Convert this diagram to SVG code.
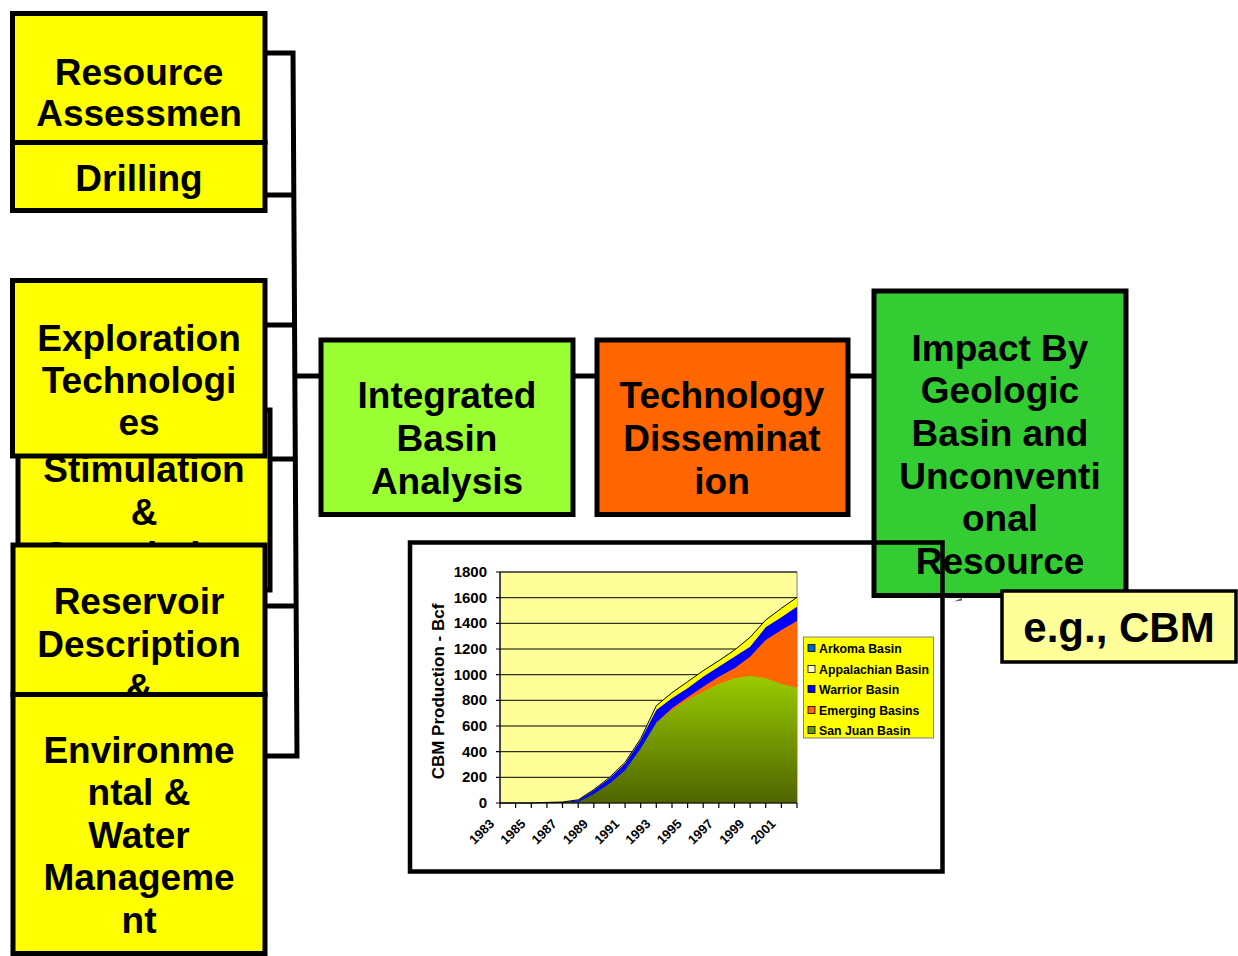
<svg xmlns="http://www.w3.org/2000/svg" width="1238" height="956" viewBox="0 0 1238 956">
<style>
.box{stroke:#000;stroke-width:5}
.y{fill:#FFFF00}
.t{font-family:"Liberation Sans",Arial,sans-serif;font-weight:bold;font-size:37px;fill:#000;text-anchor:middle}
.big{font-size:42px}
.conn{stroke:#000;stroke-width:5;fill:none}
.ax{font-family:"Liberation Sans",Arial,sans-serif;font-weight:bold;font-size:15px;fill:#000}
.axt{font-size:17px}
.xl{font-size:13px}
.lg{font-family:"Liberation Sans",Arial,sans-serif;font-weight:bold;font-size:12.3px;fill:#000}
.grid{stroke:#000;stroke-width:1}
</style>
<defs>
<linearGradient id="sj" gradientUnits="userSpaceOnUse" x1="0" y1="675" x2="0" y2="803">
<stop offset="0" stop-color="#99CC00"/>
<stop offset="1" stop-color="#4F6400"/>
</linearGradient>
</defs>
<rect width="1238" height="956" fill="#fff"/>
<g id="connectors">
<path class="conn" d="M265,53H293M265,195H294M265,325H294.5M270,459H295M265,606H296M265,756H297.5M293,50.5L297,758.5M295,376H321M573,376H597M848,376H874"/>
</g>
<g id="resource">
<rect class="box y" x="12.5" y="13.5" width="252.5" height="129"/>
<text class="t" x="139" y="85">Resource</text>
<text class="t" x="139" y="126">Assessmen</text>
</g>
<g id="drilling">
<rect class="box y" x="12.5" y="142.5" width="252.5" height="68"/>
<text class="t" x="139" y="191">Drilling</text>
</g>
<g id="stimulation">
<rect class="box y" x="18" y="410" width="252" height="180"/>
<text class="t" x="144" y="482">Stimulation</text>
<text class="t" x="144" y="525">&amp;</text>
<text class="t" x="144" y="568">Completion</text>
</g>
<g id="exploration">
<rect class="box y" x="12.5" y="280.5" width="252.5" height="175.5"/>
<text class="t" x="139" y="351">Exploration</text>
<text class="t" x="139" y="393">Technologi</text>
<text class="t" x="139" y="435">es</text>
</g>
<g id="reservoir">
<rect class="box y" x="13" y="545" width="252" height="150"/>
<text class="t" x="139" y="614">Reservoir</text>
<text class="t" x="139" y="657">Description</text>
<text class="t" x="139" y="700">&amp;</text>
</g>
<g id="environmental">
<rect class="box y" x="13" y="694.5" width="252" height="259"/>
<text class="t" x="139" y="763">Environme</text>
<text class="t" x="139" y="805">ntal &amp;</text>
<text class="t" x="139" y="848">Water</text>
<text class="t" x="139" y="890">Manageme</text>
<text class="t" x="139" y="933">nt</text>
</g>
<g id="integrated">
<rect class="box" fill="#99FF33" x="321" y="340" width="252" height="174.5"/>
<text class="t" x="447" y="408">Integrated</text>
<text class="t" x="447" y="451">Basin</text>
<text class="t" x="447" y="494">Analysis</text>
</g>
<g id="technology">
<rect class="box" fill="#FF6600" x="597" y="340" width="251" height="174.5"/>
<text class="t" x="722" y="408">Technology</text>
<text class="t" x="722" y="451">Disseminat</text>
<text class="t" x="722" y="494">ion</text>
</g>
<g id="impact">
<rect class="box" fill="#33CC33" x="874" y="291" width="252" height="304.5"/>
<text class="t" x="1000" y="361">Impact By</text>
<text class="t" x="1000" y="403">Geologic</text>
<text class="t" x="1000" y="446">Basin and</text>
<text class="t" x="1000" y="489">Unconventi</text>
<text class="t" x="1000" y="531">onal</text>
<text class="t" x="1000" y="574">Resource</text>
</g>
<g id="chart">
<rect x="500" y="572" width="297" height="231" fill="#FFFF99" stroke="#808080" stroke-width="1"/>
<path class="grid" d="M500,777.3H797M500,751.7H797M500,726H797M500,700.3H797M500,674.7H797M500,649H797M500,623.3H797M500,597.7H797M500,572H797"/>
<polygon fill="#FFFF00" points="500,803 515.6,803 531.3,803 546.9,802.4 562.5,802 578.2,799.8 593.8,789.6 609.4,777.5 625.1,762.3 640.7,738.5 656.3,705.7 672,692.7 687.6,681.7 703.2,670.7 718.8,660.7 734.5,650 750.1,637.3 765.7,620 781.4,608.3 797,597.3 797,803"/>
<polygon fill="#0000FF" points="500,803 515.6,803 531.3,803 546.9,802.5 562.5,802.2 578.2,800.3 593.8,790.3 609.4,778.6 625.1,763.6 640.7,740.1 656.3,710 672,698.3 687.6,688.3 703.2,676.7 718.8,666.7 734.5,656.7 750.1,646.7 765.7,627.3 781.4,617.3 797,606.7 797,803"/>
<polygon fill="#FF6600" points="656.3,722.7 672,708.3 687.6,697.3 703.2,686.7 718.8,676.7 734.5,668.3 750.1,656.7 765.7,640 781.4,630 797,621 797,803 656.3,803"/>
<polygon fill="url(#sj)" points="500,803 515.6,803 531.3,803 546.9,803 562.5,802.6 578.2,802 593.8,794 609.4,783.7 625.1,770.3 640.7,748.5 656.3,722.7 672,710 687.6,700 703.2,691.7 718.8,684 734.5,678.3 750.1,676 765.7,678.3 781.4,684 797,687.7 797,803"/>
<polyline fill="none" stroke="#000" stroke-width="1" points="500,803 515.6,803 531.3,803 546.9,802.4 562.5,802 578.2,799.8 593.8,789.6 609.4,777.5 625.1,762.3 640.7,738.5 656.3,705.7 672,692.7 687.6,681.7 703.2,670.7 718.8,660.7 734.5,650 750.1,637.3 765.7,620 781.4,608.3 797,597.3"/>
<path stroke="#000" stroke-width="1.2" fill="none" d="M500,572V803H797M496,803H500M496,777.3H500M496,751.7H500M496,726H500M496,700.3H500M496,674.7H500M496,649H500M496,623.3H500M496,597.7H500M496,572H500M500,803V808M515.6,803V808M531.3,803V808M546.9,803V808M562.5,803V808M578.2,803V808M593.8,803V808M609.4,803V808M625.1,803V808M640.7,803V808M656.3,803V808M672,803V808M687.6,803V808M703.2,803V808M718.8,803V808M734.5,803V808M750.1,803V808M765.7,803V808M781.4,803V808M797,803V808"/>
<g class="ax" text-anchor="end">
<text x="487" y="808">0</text>
<text x="487" y="782.3">200</text>
<text x="487" y="756.7">400</text>
<text x="487" y="731">600</text>
<text x="487" y="705.3">800</text>
<text x="487" y="679.7">1000</text>
<text x="487" y="654">1200</text>
<text x="487" y="628.3">1400</text>
<text x="487" y="602.7">1600</text>
<text x="487" y="577">1800</text>
</g>
<text class="ax axt" text-anchor="middle" transform="translate(444,691.5) rotate(-90)">CBM Production - Bcf</text>
<g class="ax xl" text-anchor="end">
<text transform="translate(495,824.6) rotate(-45)">1983</text>
<text transform="translate(526.3,824.6) rotate(-45)">1985</text>
<text transform="translate(557.5,824.6) rotate(-45)">1987</text>
<text transform="translate(588.8,824.6) rotate(-45)">1989</text>
<text transform="translate(620.1,824.6) rotate(-45)">1991</text>
<text transform="translate(651.3,824.6) rotate(-45)">1993</text>
<text transform="translate(682.6,824.6) rotate(-45)">1995</text>
<text transform="translate(713.8,824.6) rotate(-45)">1997</text>
<text transform="translate(745.1,824.6) rotate(-45)">1999</text>
<text transform="translate(776.4,824.6) rotate(-45)">2001</text>
</g>
<rect x="803.5" y="637" width="130" height="101" fill="#FFFF00" stroke="#808080" stroke-width="1"/>
<g stroke="#000" stroke-width="0.8">
<rect x="808" y="644.5" width="7" height="7" fill="#0066CC"/>
<rect x="808" y="665.5" width="7" height="7" fill="#FFFFCC"/>
<rect x="808" y="685.5" width="7" height="7" fill="#0000FF"/>
<rect x="808" y="706.5" width="7" height="7" fill="#FF6600"/>
<rect x="808" y="726.5" width="7" height="7" fill="#669900"/>
</g>
<text class="lg" x="819" y="652.5">Arkoma Basin</text>
<text class="lg" x="819" y="673.5">Appalachian Basin</text>
<text class="lg" x="819" y="693.5">Warrior Basin</text>
<text class="lg" x="819" y="714.5">Emerging Basins</text>
<text class="lg" x="819" y="734.5">San Juan Basin</text>
<rect x="410" y="542.5" width="532.5" height="329" fill="none" stroke="#000" stroke-width="4.5"/>
</g>
<g id="cbm">
<polygon points="954,601.5 962,598 962,600.5" fill="#555"/>
<rect x="1002" y="591" width="234" height="71" fill="#FFFF99" stroke="#000" stroke-width="3.5"/>
<text class="t big" x="1119" y="642">e.g., CBM</text>
</g>
</svg>
